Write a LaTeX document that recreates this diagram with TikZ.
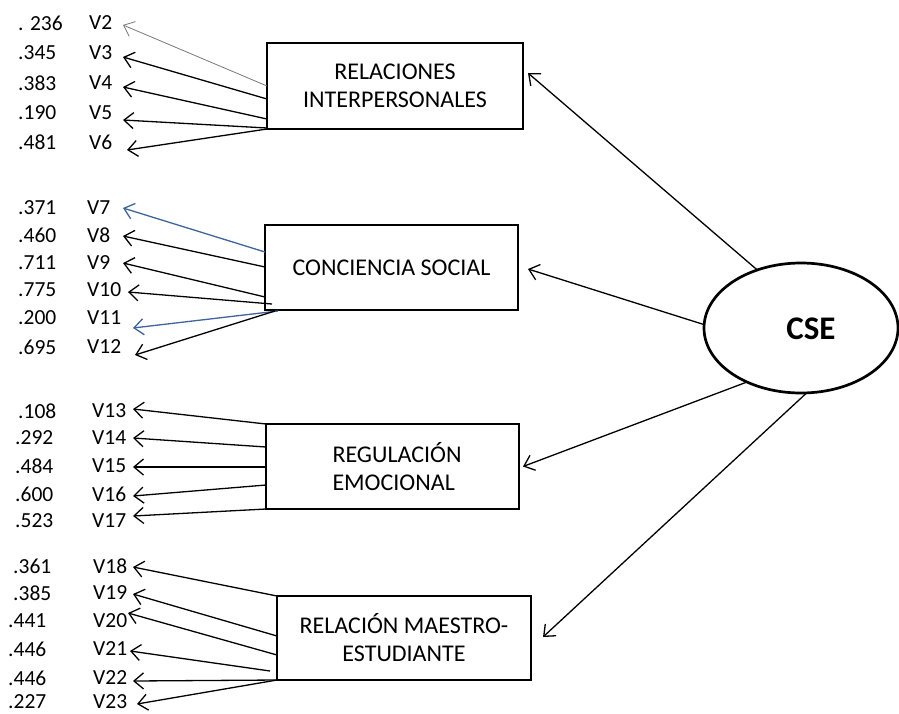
\documentclass[tikz,border=0pt]{standalone}
\usepackage{fontspec}
\setmainfont{Carlito}
\usetikzlibrary{arrows.meta,calc,shapes.geometric}
\definecolor{lnkblue}{RGB}{62,100,155}
\definecolor{lnkgray}{RGB}{120,120,120}
\begin{document}
\begin{tikzpicture}[x=1pt,y=-1pt,
  lab/.style={anchor=west,inner sep=0pt,font=\fontsize{21.5}{26}\selectfont},
  fbox/.style={draw,line width=2.7pt,inner sep=0pt,outer sep=0pt,align=center,
    font=\fontsize{24}{28}\selectfont},
  arr/.style={-{Straight Barb[length=9.5pt,width=16pt]},line width=1.3pt},
  arrthin/.style={arr,line width=0.8pt,draw=lnkgray},
  arrblue/.style={arr,draw=lnkblue}]
\useasboundingbox (0,0) rectangle (899,713);
% boxes
\node[fbox,minimum width=256pt,minimum height=86pt] (b1) at (395,86) {RELACIONES\\INTERPERSONALES};
\node[fbox,minimum width=253pt,minimum height=85pt] (b2) at (391.5,267.5) {CONCIENCIA SOCIAL};
\node[fbox,minimum width=253pt,minimum height=85pt,align=left,text width=120pt] (b3) at (392.5,466.5) {REGULACIÓN\\EMOCIONAL};
\node[fbox,minimum width=254pt,minimum height=84pt] (b4) at (404,638) {RELACIÓN MAESTRO-\\ESTUDIANTE};
% latent
\node[ellipse,draw,line width=2.7pt,minimum width=194pt,minimum height=130pt,inner sep=0pt,outer sep=0pt] (cse) at (801,328) {};
\node[font=\fontsize{33}{40}\selectfont\bfseries,inner sep=0pt] (cselab) at (811,329) {CSE};
% indicators
\foreach \n/\num/\nx/\vx/\y/\tx/\ty in {
  2/{. 236}/18/89/23/123/25,
  3/.345/18/89/53/123/57,
  4/.383/18/89/83/123/87,
  5/.190/18/89/113/123/120,
  6/.481/18/89/142/127/150,
  7/.371/18/87/208/123/208,
  8/.460/18/87/235/123/236,
  9/.711/18/87/263/123/263,
  10/.775/18/87/290/128/292,
  11/.200/18/87/318/133/328,
  12/.695/18/87/347/135/355,
  13/.108/18/92/411/133/409,
  14/.292/15/92/438/133/438,
  15/.484/15/92/466/133/467,
  16/.600/15/92/494/133/496,
  17/.523/15/92/521/133/516,
  18/.361/13/93/566/133/567,
  19/.385/13/93/593/133/594,
  20/.441/8/93/621/128/613,
  21/.446/8/93/649/130/651,
  22/.446/8/93/678/133/681,
  23/.227/8/93/702/137/704}{
  \node[lab] (n\n) at (\nx,\y) {\num};
  \node[lab] (v\n) at (\vx,\y) {V\n};
  \coordinate (t\n) at (\tx,\ty);
}
% loadings box 1
\draw[arrthin] ([yshift=43pt]b1.south west) -- (t2);
\draw[arr] ([yshift=30pt]b1.south west) -- (t3);
\draw[arr] ([yshift=10pt]b1.south west) -- (t4);
\draw[arr] ([yshift=1pt]b1.south west) -- (t5);
\draw[arr] (b1.south west) -- (t6);
% box 2
\draw[arrblue] ([yshift=58pt]b2.south west) -- (t7);
\draw[arr] ([yshift=43pt]b2.south west) -- (t8);
\draw[arr] ([yshift=13pt]b2.south west) -- (t9);
\draw[arr] ([xshift=7pt,yshift=6pt]b2.south west) -- (t10);
\draw[arrblue] ([xshift=13pt,yshift=-1pt]b2.south west) -- (t11);
\draw[arr] ([xshift=10pt,yshift=-1pt]b2.south west) -- (t12);
% box 3
\draw[arr] (b3.north west) -- (t13);
\draw[arr] ([yshift=62pt]b3.south west) -- (t14);
\draw[arr] ([yshift=42pt]b3.south west) -- (t15);
\draw[arr] ([yshift=24pt]b3.south west) -- (t16);
\draw[arr] (b3.south west) -- (t17);
% box 4
\draw[arr] (b4.north west) -- (t18);
\draw[arr] ([yshift=44pt]b4.south west) -- (t19);
\draw[arr] ([yshift=25pt]b4.south west) -- (t20);
\draw[arr] ([xshift=-7pt,yshift=9pt]b4.south west) -- (t21);
\draw[arr] (b4.south west) -- (t22);
\draw[arr] (b4.south west) -- (t23);
% structural paths
\draw[arr] (cse.127.5) -- ([xshift=5pt,yshift=13pt]b1.east);
\draw[arr] (cse.178) -- ([xshift=10pt,yshift=-1.5pt]b2.east);
\draw[arr] (cse.225.5) -- ([xshift=4pt]b3.east);
\draw[arr] (cse.275) -- ([xshift=12pt,yshift=1pt]b4.east);
\end{tikzpicture}
\end{document}
